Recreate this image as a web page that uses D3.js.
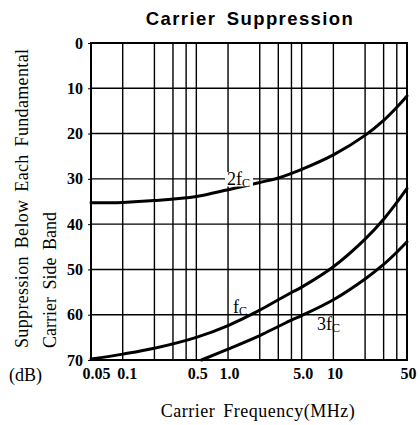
<!DOCTYPE html>
<html>
<head>
<meta charset="utf-8">
<script src="https://cdn.jsdelivr.net/npm/d3@7"></script>
<style>
  html, body { margin: 0; padding: 0; background: #fff; }
  svg { display: block; }
</style>
</head>
<body>
<svg id="chart" width="420" height="425"></svg>
<script>
// grid / tick values
const freqGrid = [0.05, 0.1, 0.2, 0.3, 0.4, 0.5, 1, 2, 3, 4, 5, 10, 20, 30, 40, 50];
const freqTickValues = [0.05, 0.1, 0.5, 1, 5, 10, 50];
const freqTickLabels = ['0.05', '0.1', '0.5', '1.0', '5.0', '10', '50'];
const dbTicks = [0, 10, 20, 30, 40, 50, 60, 70];

// curves (MHz, dB)
const fcFreq = [0.05, 0.1, 0.2, 0.5, 1, 2, 3, 4, 5, 10, 20, 30, 40, 50];
const fcDb = [69.8, 68.7, 67.4, 65.0, 62.4, 59.0, 56.7, 55.1, 53.9, 49.4, 43.3, 38.9, 35.2, 32.1];

const f2cFreq = [0.05, 0.1, 0.2, 0.5, 1, 2, 3, 5, 10, 20, 30, 40, 50];
const f2cDb = [35.3, 35.2, 34.8, 33.9, 32.4, 30.8, 29.8, 27.9, 24.7, 20.4, 17.1, 14.2, 11.7];

const f3cFreq = [0.56, 1, 2, 3, 4, 5, 10, 20, 30, 40, 50];
const f3cDb = [70, 67.6, 64.6, 62.6, 61.2, 60.2, 56.7, 52.1, 48.9, 46.2, 43.9];

const svg = d3.select('#chart');
const plot = { left: 91, right: 407, top: 43, bottom: 360 };

const x = d3.scaleLog().domain([0.05, 50]).range([plot.left, plot.right]);
const y = d3.scaleLinear().domain([0, 70]).range([plot.top, plot.bottom]);

const serif = '"Liberation Serif", "DejaVu Serif", serif';

// title
svg.append('text')
    .attr('x', 250)
    .attr('y', 25)
    .attr('text-anchor', 'middle')
    .style('font-family', '"Liberation Sans", Arial, sans-serif')
    .style('font-weight', 'bold')
    .style('font-size', '18.5px')
    .style('letter-spacing', '1.4px')
    .style('word-spacing', '4px')
    .text('Carrier Suppression');

// grid
const grid = svg.append('g').attr('class', 'grid')
    .style('stroke', '#000').style('stroke-width', 1.4);
grid.selectAll('line.v').data(freqGrid).enter().append('line')
    .attr('class', 'v')
    .attr('x1', function (d) { return x(d); })
    .attr('x2', function (d) { return x(d); })
    .attr('y1', plot.top)
    .attr('y2', plot.bottom);
grid.selectAll('line.h').data(dbTicks).enter().append('line')
    .attr('class', 'h')
    .attr('x1', plot.left)
    .attr('x2', plot.right)
    .attr('y1', function (d) { return y(d); })
    .attr('y2', function (d) { return y(d); });

// frame
svg.append('rect')
    .attr('x', plot.left).attr('y', plot.top)
    .attr('width', plot.right - plot.left).attr('height', plot.bottom - plot.top)
    .style('fill', 'none').style('stroke', '#000').style('stroke-width', 2);

// axes
const yAxis = d3.axisLeft(y).tickValues(dbTicks).tickSize(3).tickPadding(5);
const gy = svg.append('g').attr('transform', 'translate(' + plot.left + ',0)').call(yAxis)
    .attr('font-family', serif).attr('font-size', 16);
gy.select('.domain').remove();
gy.selectAll('text')
    .style('font-family', serif).style('font-size', '16px').style('font-weight', 'bold');

const xAxis = d3.axisBottom(x).tickValues(freqTickValues)
    .tickFormat(function (d, i) { return freqTickLabels[i]; })
    .tickSize(0).tickPadding(8);
const gx = svg.append('g').attr('transform', 'translate(0,' + plot.bottom + ')').call(xAxis)
    .attr('font-family', serif).attr('font-size', 16);
gx.select('.domain').remove();
gx.selectAll('text')
    .style('font-family', serif).style('font-size', '16px').style('font-weight', 'bold')
    .attr('dx', function (d) { return d === 0.05 ? 5 : (d === 0.1 ? 4 : 1); });

// curves
const line = d3.line()
    .x(function (d) { return x(d[0]); })
    .y(function (d) { return y(d[1]); })
    .curve(d3.curveCatmullRom.alpha(0.5));

const curves = [
    d3.zip(fcFreq, fcDb),
    d3.zip(f2cFreq, f2cDb),
    d3.zip(f3cFreq, f3cDb)
];
svg.append('g').selectAll('path').data(curves).enter().append('path')
    .attr('d', line)
    .style('fill', 'none').style('stroke', '#000').style('stroke-width', 3)
    .style('stroke-linecap', 'round');

// curve labels
function curveLabel(px, py, main, bg) {
    const g = svg.append('g');
    if (bg) {
        g.append('rect').attr('x', px - 2).attr('y', py - 13)
            .attr('width', 28).attr('height', 14.5).style('fill', '#fff');
    }
    const t = g.append('text').attr('x', px).attr('y', py)
        .style('font-family', serif).style('font-size', '18px');
    t.append('tspan').text(main);
    t.append('tspan').attr('dy', 2).style('font-size', '12px').text('C');
}
curveLabel(227, 185, '2f', true);
curveLabel(233, 313, 'f', false);
curveLabel(317, 330, '3f', false);

// axis titles
svg.append('text')
    .attr('transform', 'translate(28,348) rotate(-90)')
    .style('font-family', serif).style('font-size', '18px')
    .style('letter-spacing', '0.35px')
    .style('word-spacing', '3px')
    .text('Suppression Below Each Fundamental');
svg.append('text')
    .attr('transform', 'translate(56,348) rotate(-90)')
    .style('font-family', serif).style('font-size', '18px')
    .style('word-spacing', '3px')
    .text('Carrier Side Band');
svg.append('text')
    .attr('x', 9).attr('y', 381)
    .style('font-family', serif).style('font-size', '18px')
    .text('(dB)');

svg.append('text')
    .attr('x', 258).attr('y', 417)
    .attr('text-anchor', 'middle')
    .style('font-family', serif).style('font-size', '18px')
    .style('letter-spacing', '0.5px')
    .style('word-spacing', '3px')
    .text('Carrier Frequency(MHz)');
</script>
</body>
</html>
